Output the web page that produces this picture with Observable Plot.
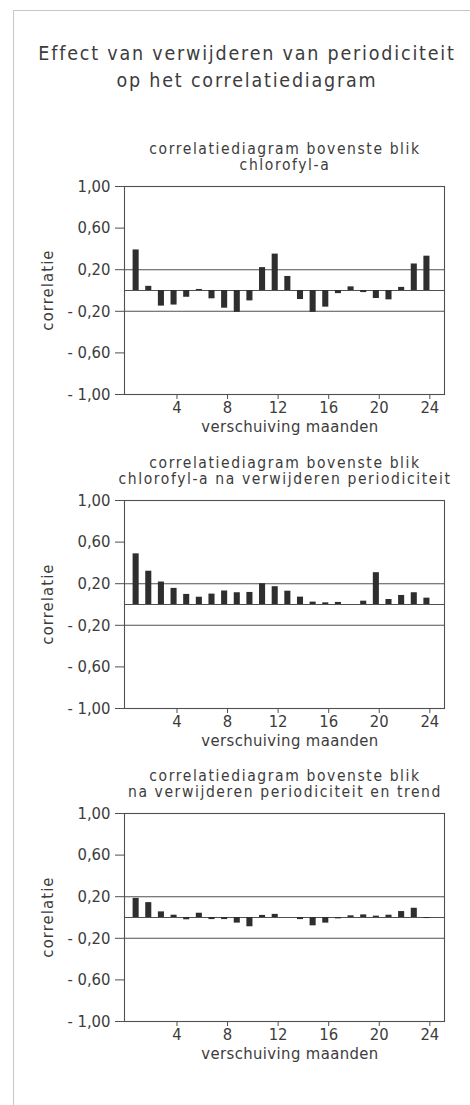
<!DOCTYPE html>
<html>
<head>
<meta charset="utf-8">
<script src="https://cdn.jsdelivr.net/npm/d3@7"></script>
<script src="https://cdn.jsdelivr.net/npm/@observablehq/plot@0.6"></script>
<style>
  html, body { margin: 0; padding: 0; background: #fff; }
  #page { position: relative; width: 470px; height: 1105px; overflow: hidden; font-family: "DejaVu Sans Condensed", "DejaVu Sans", sans-serif; color: #3c3c3c; }
  .border { position: absolute; left: 13px; top: 10px; width: 470px; height: 1120px; border-left: 1px solid #c8c8c8; border-top: 1px solid #c8c8c8; }
  .main { position: absolute; left: 0; width: 494px; top: 40px; text-align: center; font-size: 19.5px; line-height: 27px; letter-spacing: 1.8px; }
  .ptitle { position: absolute; left: 84px; width: 402px; text-align: center; font-size: 15.5px; line-height: 16.5px; letter-spacing: 1.6px; white-space: nowrap; }
  .xlab { position: absolute; left: 90px; width: 400px; text-align: center; font-size: 16.5px; line-height: 16px; letter-spacing: 0.4px; }
  .ylab { position: absolute; width: 120px; left: -12px; text-align: center; font-size: 16.5px; line-height: 16px; letter-spacing: 1.1px; transform: rotate(-90deg); }
  .plot { position: absolute; left: 0; }
</style>
</head>
<body>
<div id="page">
  <div class="border"></div>
</div>
<script>
// ---- data ----
const mainTitle = ["Effect van verwijderen van periodiciteit", "op het correlatiediagram"];
const panelTitles = [
  ["correlatiediagram bovenste blik", "chlorofyl-a"],
  ["correlatiediagram bovenste blik", "chlorofyl-a na verwijderen periodiciteit"],
  ["correlatiediagram bovenste blik", "na verwijderen periodiciteit en trend"]
];
const xLabel = "verschuiving maanden";
const yLabel = "correlatie";
const lags = [1,2,3,4,5,6,7,8,9,10,11,12,13,14,15,16,17,18,19,20,21,22,23,24];
const chlorofyl = [0.39, 0.04, -0.15, -0.14, -0.065, 0.01, -0.08, -0.17, -0.21, -0.10, 0.22, 0.35, 0.135, -0.087, -0.21, -0.16, -0.03, 0.035, -0.02, -0.077, -0.09, 0.03, 0.255, 0.33];
const naPeriodiciteit = [0.487, 0.32, 0.216, 0.155, 0.097, 0.07, 0.10, 0.13, 0.113, 0.116, 0.20, 0.171, 0.128, 0.071, 0.023, 0.016, 0.02, 0, 0.032, 0.306, 0.048, 0.087, 0.113, 0.061];
const naTrend = [0.184, 0.143, 0.054, 0.022, -0.022, 0.041, -0.02, -0.02, -0.054, -0.089, 0.02, 0.03, 0, -0.02, -0.08, -0.054, -0.013, 0.016, 0.025, 0.013, 0.022, 0.057, 0.089, -0.01];
const xTicks = [4, 8, 12, 16, 20, 24];
const yTicks = [1, 0.6, 0.2, -0.2, -0.6, -1];
const yTickLabels = ["1,00", "0,60", "0,20", "- 0,20", "- 0,60", "- 1,00"];
const refLines = [0.2, 0, -0.2];

// ---- layout ----
const page = document.getElementById("page");
const ink = "#3c3c3c";
const lineInk = "#505050";

const mt = document.createElement("div");
mt.className = "main";
mt.innerHTML = mainTitle.join("<br>");
page.appendChild(mt);

const frameTops = [186, 500, 813];
const series = [chlorofyl, naPeriodiciteit, naTrend];
const mTop = 10, frameH = 208, mBottom = 45;

series.forEach((values, k) => {
  const top = frameTops[k];
  const data = lags.map((lag, i) => ({lag, r: values[i]}));
  const svg = Plot.plot({
    width: 470,
    height: mTop + frameH + mBottom,
    marginLeft: 124, marginRight: 26, marginTop: mTop, marginBottom: mBottom,
    style: {background: "transparent", fontFamily: "'DejaVu Sans Condensed', 'DejaVu Sans', sans-serif", fontSize: "16.5px", color: ink, overflow: "visible"},
    x: {domain: [-0.15, 25.16]},
    y: {domain: [-1, 1]},
    marks: [
      Plot.ruleY(refLines, {stroke: lineInk, strokeWidth: 1.1}),
      Plot.rect(data, {x1: d => d.lag - 0.47, x2: d => d.lag + 0.01, y1: 0, y2: "r", fill: "#2e2e2e"}),
      Plot.frame({stroke: lineInk, strokeWidth: 1.1}),
      Plot.axisX({ticks: xTicks, tickSize: 5, tickPadding: 2, label: null, tickFormat: d => String(d), stroke: lineInk, fontSize: 16.5}),
      Plot.axisY({ticks: yTicks, tickSize: 9, tickPadding: 5, label: null, tickFormat: d => yTickLabels[yTicks.indexOf(d)], stroke: lineInk, fontSize: 16.5})
    ]
  });
  svg.classList.add("plot");
  svg.style.top = (top - mTop) + "px";
  page.appendChild(svg);

  const pt = document.createElement("div");
  pt.className = "ptitle";
  pt.style.top = (top - 45.5) + "px";
  pt.innerHTML = panelTitles[k].join("<br>");
  page.appendChild(pt);

  const xl = document.createElement("div");
  xl.className = "xlab";
  xl.style.top = (top + frameH + 25) + "px";
  xl.textContent = xLabel;
  page.appendChild(xl);

  const yl = document.createElement("div");
  yl.className = "ylab";
  yl.style.top = (top + frameH / 2 - 8) + "px";
  yl.textContent = yLabel;
  page.appendChild(yl);
});
</script>
</body>
</html>
